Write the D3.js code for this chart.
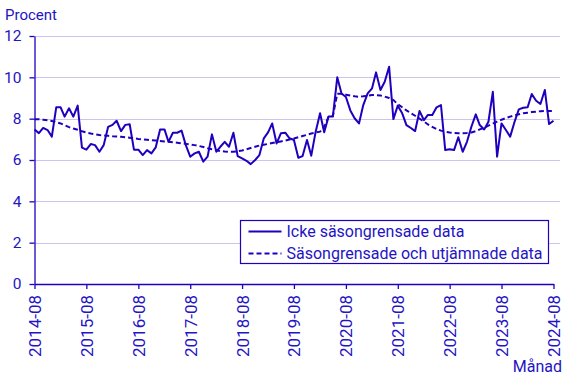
<!DOCTYPE html>
<html>
<head>
<meta charset="utf-8">
<script src="https://cdn.jsdelivr.net/npm/d3@7"></script>
<style>
  body { margin: 0; background: #fff; }
  svg { display: block; font-family: Roboto, "Liberation Sans", sans-serif; }
</style>
</head>
<body>
<svg id="chart" width="567" height="378"></svg>
<script>
// Icke säsongrensade data, 2014-08 .. 2024-08
const raw = [
  7.48, 7.30, 7.55, 7.45, 7.13, 8.55, 8.55, 8.10, 8.50, 8.10, 8.63, 6.60,
  6.50, 6.77, 6.72, 6.40, 6.72, 7.60, 7.70, 7.90, 7.40, 7.70, 7.73, 6.50,
  6.50, 6.24, 6.48, 6.32, 6.61, 7.48, 7.48, 6.88, 7.32, 7.32, 7.42, 6.72,
  6.16, 6.32, 6.40, 5.92, 6.16, 7.24, 6.40, 6.64, 6.88, 6.64, 7.32, 6.19,
  6.08, 5.96, 5.80, 6.00, 6.24, 7.05, 7.35, 7.77, 6.80, 7.29, 7.32, 7.05,
  6.97, 6.11, 6.19, 6.97, 6.21, 7.37, 8.26, 7.34, 8.10, 8.10, 10.0, 9.22,
  9.05, 8.40, 8.02, 7.77, 8.66, 9.22, 9.47, 10.24, 9.39, 9.79, 10.51, 7.98,
  8.63, 8.26, 7.69, 7.55, 7.40, 8.37, 7.93, 8.18, 8.18, 8.55, 8.66, 6.48,
  6.52, 6.48, 7.10, 6.40, 6.88, 7.61, 8.21, 7.69, 7.48, 7.85, 9.30, 6.16,
  7.77, 7.45, 7.13, 7.85, 8.45, 8.53, 8.55, 9.19, 8.87, 8.71, 9.39, 7.74,
  7.90
];

// Säsongrensade och utjämnade data
const trend = [
  7.97, 7.97, 7.95, 7.92, 7.89, 7.83, 7.77, 7.68, 7.59, 7.52, 7.46, 7.39,
  7.33, 7.28, 7.25, 7.21, 7.19, 7.17, 7.15, 7.14, 7.12, 7.10, 7.08, 7.05,
  7.02, 7.00, 6.98, 6.96, 6.94, 6.92, 6.90, 6.88, 6.86, 6.84, 6.81, 6.78,
  6.75, 6.72, 6.68, 6.63, 6.57, 6.52, 6.47, 6.43, 6.41, 6.40, 6.40, 6.42,
  6.46, 6.52, 6.58, 6.64, 6.70, 6.74, 6.78, 6.82, 6.86, 6.90, 6.94, 6.99,
  7.04, 7.10, 7.16, 7.22, 7.28, 7.33, 7.37, 7.60, 8.10, 8.13, 9.20, 9.20,
  9.16, 9.12, 9.08, 9.06, 9.08, 9.11, 9.14, 9.14, 9.12, 9.07, 9.00, 8.90,
  8.70, 8.55, 8.40, 8.27, 8.14, 8.00, 7.87, 7.72, 7.60, 7.50, 7.42, 7.37,
  7.33, 7.31, 7.30, 7.30, 7.31, 7.33, 7.40, 7.48, 7.56, 7.66, 7.76, 7.86,
  7.95, 8.03, 8.10, 8.16, 8.21, 8.26, 8.29, 8.32, 8.34, 8.36, 8.37, 8.37,
  8.37
];

const tickLabels = ["2014-08", "2015-08", "2016-08", "2017-08", "2018-08", "2019-08",
  "2020-08", "2021-08", "2022-08", "2023-08", "2024-08"];
const yTicks = [0, 2, 4, 6, 8, 10, 12];
const legendLabels = ["Icke säsongrensade data", "Säsongrensade och utjämnade data"];

const blue = "#1e00be";
const textBlue = "#2414c4";
const grid = "#c9c5f0";

const parse = d3.timeParse("%Y-%m");
const months = d3.timeMonth.range(parse("2014-08"), d3.timeMonth.offset(parse("2024-08"), 1));

const svg = d3.select("#chart");
const plotLeft = 34.5, plotRight = 553.5, plotTop = 36, plotBottom = 284;

const x = d3.scaleTime()
  .domain([months[0], months[months.length - 1]])
  .range([plotLeft, plotRight]);
const y = d3.scaleLinear()
  .domain([0, 12])
  .range([plotBottom, plotTop]);

// gridlines
svg.append("g")
  .selectAll("line")
  .data(yTicks.filter(d => d > 0))
  .join("line")
  .attr("x1", plotLeft)
  .attr("x2", 560)
  .attr("y1", d => Math.round(y(d)) + 0.5)
  .attr("y2", d => Math.round(y(d)) + 0.5)
  .attr("stroke", grid)
  .attr("stroke-width", 1);

// y axis
const yAxis = svg.append("g")
  .attr("transform", `translate(${plotLeft},0)`)
  .call(d3.axisLeft(y).tickValues(yTicks).tickSize(5).tickPadding(8).tickSizeOuter(0));
yAxis.select(".domain").attr("stroke", blue).attr("stroke-width", 1.3);
yAxis.selectAll(".tick line").attr("stroke", blue).attr("stroke-width", 1.3);
yAxis.selectAll(".tick text")
  .attr("fill", textBlue)
  .style("font-size", "15.5px")
  .style("font-family", "Roboto, sans-serif");

// x axis
const xAxis = svg.append("g")
  .attr("transform", `translate(0,${plotBottom})`)
  .call(d3.axisBottom(x)
    .tickValues(tickLabels.map(parse))
    .tickFormat(d3.timeFormat("%Y-%m"))
    .tickSize(5)
    .tickSizeOuter(0));
xAxis.select(".domain").attr("stroke", blue).attr("stroke-width", 1.3);
xAxis.selectAll(".tick line").attr("stroke", blue).attr("stroke-width", 1.3);
xAxis.selectAll(".tick text")
  .attr("fill", textBlue)
  .style("font-size", "17px")
  .style("font-family", "Roboto, sans-serif")
  .attr("text-anchor", "end")
  .attr("dy", "0.35em")
  .attr("transform", "translate(0,11) rotate(-90)")
  .attr("x", 0)
  .attr("y", 0);

// lines
const line = d3.line()
  .x((d, i) => x(months[i]))
  .y(d => y(d));

svg.append("path")
  .datum(trend)
  .attr("fill", "none")
  .attr("stroke", blue)
  .attr("stroke-width", 2)
  .attr("stroke-dasharray", "5,3")
  .attr("d", line);

svg.append("path")
  .datum(raw)
  .attr("fill", "none")
  .attr("stroke", blue)
  .attr("stroke-width", 2)
  .attr("stroke-linejoin", "round")
  .attr("d", line);

// axis titles
svg.append("text")
  .attr("x", 5)
  .attr("y", 20)
  .attr("fill", textBlue)
  .style("font-size", "15px")
  .text("Procent");

svg.append("text")
  .attr("x", 562)
  .attr("y", 372)
  .attr("text-anchor", "end")
  .attr("fill", textBlue)
  .style("font-size", "16px")
  .text("Månad");

// legend
const legend = svg.append("g").attr("transform", "translate(240.5,220.5)");
legend.append("rect")
  .attr("width", 308)
  .attr("height", 43)
  .attr("fill", "#fff")
  .attr("stroke", blue)
  .attr("stroke-width", 1.2);

legendLabels.forEach((label, i) => {
  const ly = 11 + i * 22;
  legend.append("line")
    .attr("x1", 8).attr("x2", 41)
    .attr("y1", ly).attr("y2", ly)
    .attr("stroke", blue)
    .attr("stroke-width", 2)
    .attr("stroke-dasharray", i === 1 ? "5,3" : null);
  legend.append("text")
    .attr("x", 46)
    .attr("y", ly)
    .attr("dy", "0.35em")
    .attr("fill", textBlue)
    .style("font-size", "16px")
    .text(label);
});
</script>
</body>
</html>
